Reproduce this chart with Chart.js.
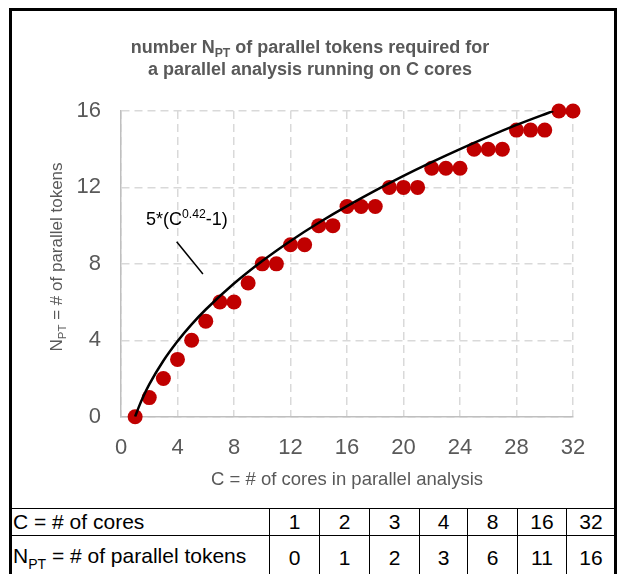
<!DOCTYPE html>
<html>
<head>
<meta charset="utf-8">
<script src="https://cdn.jsdelivr.net/npm/chart.js@4.4.0/dist/chart.umd.min.js"></script>
<style>
body { margin: 0; background: #fff; font-family: "Liberation Sans", Arial, sans-serif; }
#wrap { position: relative; width: 620px; height: 574px; overflow: hidden; }
#box { position: absolute; left: 9px; top: 8px; width: 602px; height: 620px; border: 3px solid #000; }
#c { position: absolute; left: 0; top: 0; }
table { position: absolute; left: 11px; top: 508px; border-collapse: collapse; table-layout: fixed; font-size: 21px; color: #000; }
td { border: 1px solid #000; padding: 0; text-align: center; white-space: nowrap; }
td.lab { text-align: left; padding-left: 1px; }
tr.r1 td { height: 26px; }
tr.r2 td { height: 44px; }
sub { font-size: 14px; vertical-align: -6px; }
</style>
</head>
<body>
<div id="wrap">
  <canvas id="c" width="620" height="508"></canvas>
  <table id="tbl">
    <colgroup><col style="width:258px"><col style="width:50px"><col style="width:50px"><col style="width:50px"><col style="width:48px"><col style="width:50px"><col style="width:49px"><col style="width:49px"></colgroup>
    <tr class="r1"><td class="lab">C = # of cores</td></tr>
    <tr class="r2"><td class="lab">N<sub>PT</sub> = # of parallel tokens</td></tr>
  </table>
  <div id="box"></div>
</div>
<script>
// points
const cores = [1, 2, 3, 4, 5, 6, 7, 8, 9, 10, 11, 12, 13, 14, 15, 16,
               17, 18, 19, 20, 21, 22, 23, 24, 25, 26, 27, 28, 29, 30, 31, 32];
const tokens = [0, 1, 2, 3, 4, 5, 6, 6, 7, 8, 8, 9, 9, 10, 10, 11,
                11, 11, 12, 12, 12, 13, 13, 13, 14, 14, 14, 15, 15, 15, 16, 16];

// fitted curve, values
const fitCores = [1, 1.25, 1.5, 2, 3, 4, 5, 6, 8, 10, 12, 14, 16, 20, 24, 28, 30.6];
const fitTokens = [0, 0.49, 0.93, 1.69, 2.93, 3.95, 4.83, 5.61, 6.97, 8.15, 9.2, 10.15, 11.02, 12.6, 14.0, 15.27, 16.0];

// little table under the chart
const tableCores = [1, 2, 3, 4, 8, 16, 32];
const tableTokens = [0, 1, 2, 3, 6, 11, 16];

const FONT = '"Liberation Sans", Arial, sans-serif';
const GREY = '#595959';

const rows = document.querySelectorAll('#tbl tr');
tableCores.forEach(v => { const td = document.createElement('td'); td.textContent = v; rows[0].appendChild(td); });
tableTokens.forEach(v => { const td = document.createElement('td'); td.textContent = v; rows[1].appendChild(td); });

// draw a string made of normal / sub / sup pieces
function richText(ctx, parts, x, y, size, bold, align) {
    const f = s => (bold ? 'bold ' : '') + s + 'px ' + FONT;
    let w = 0;
    parts.forEach(p => {
        ctx.font = f(p.s ? size * 0.68 : size);
        w += ctx.measureText(p.t).width;
    });
    let cx = align === 'center' ? x - w / 2 : x;
    ctx.textAlign = 'left';
    ctx.textBaseline = 'alphabetic';
    parts.forEach(p => {
        const sz = p.s ? size * 0.68 : size;
        ctx.font = f(sz);
        let dy = 0;
        if (p.s === 'sub') dy = size * 0.22;
        if (p.s === 'sup') dy = -size * 0.38;
        ctx.fillText(p.t, cx, y + dy);
        cx += ctx.measureText(p.t).width;
    });
}

const textPlugin = {
    id: 'texts',
    afterDraw(chart) {
        const ctx = chart.ctx;
        const x = chart.scales.x, y = chart.scales.y;
        ctx.save();
        ctx.fillStyle = GREY;
        richText(ctx, [{t: 'number N'}, {t: 'PT', s: 'sub'}, {t: ' of parallel tokens required for'}], 310, 53, 18, true, 'center');
        richText(ctx, [{t: 'a parallel analysis running on C cores'}], 310, 75, 18, true, 'center');

        // x axis title
        richText(ctx, [{t: 'C = # of cores in parallel analysis'}], (chart.chartArea.left + chart.chartArea.right) / 2, 485, 18.5, false, 'center');

        // y axis title
        ctx.save();
        ctx.translate(62, 257);
        ctx.rotate(-Math.PI / 2);
        richText(ctx, [{t: 'N'}, {t: 'PT', s: 'sub'}, {t: ' = # of parallel tokens'}], 0, 0, 17, false, 'center');
        ctx.restore();

        // label of the fitted curve
        ctx.fillStyle = '#000';
        richText(ctx, [{t: '5*(C'}, {t: '0.42', s: 'sup'}, {t: '-1)'}], x.getPixelForValue(1.77), y.getPixelForValue(10.03), 18, false, 'left');
        ctx.strokeStyle = '#000';
        ctx.lineWidth = 1.5;
        ctx.beginPath();
        ctx.moveTo(x.getPixelForValue(3.94), y.getPixelForValue(9.16));
        ctx.lineTo(x.getPixelForValue(5.8), y.getPixelForValue(7.47));
        ctx.stroke();
        ctx.restore();
    }
};

new Chart(document.getElementById('c'), {
    type: 'scatter',
    data: {
        datasets: [
            {
                data: cores.map((c, i) => ({x: c, y: tokens[i]})),
                backgroundColor: '#c00000',
                borderWidth: 0,
                pointRadius: 7.5,
                pointHoverRadius: 7.5,
                clip: false,
                order: 1
            },
            {
                data: fitCores.map((c, i) => ({x: c, y: fitTokens[i]})),
                showLine: true,
                borderColor: '#000',
                borderWidth: 2.5,
                pointRadius: 0,
                cubicInterpolationMode: 'monotone',
                order: 0
            }
        ]
    },
    options: {
        responsive: false,
        animation: false,
        layout: { padding: { top: 111, right: 47, left: 0, bottom: 0 } },
        plugins: { legend: { display: false }, tooltip: { enabled: false } },
        scales: {
            x: {
                type: 'linear', min: 0, max: 32,
                ticks: { stepSize: 4, color: GREY, font: { size: 22, family: FONT }, padding: 18 },
                grid: { color: '#d9d9d9', lineWidth: 1.5, drawTicks: false },
                border: { color: '#bfbfbf', width: 1.5, dash: [8, 5] },
                afterFit: s => { s.height = 91.3; }
            },
            y: {
                min: 0, max: 16,
                ticks: { stepSize: 4, color: GREY, font: { size: 22, family: FONT }, padding: 20 },
                grid: { color: '#d9d9d9', lineWidth: 1.5, drawTicks: false },
                border: { color: '#bfbfbf', width: 1.5, dash: [8, 5] },
                afterFit: s => { s.width = 121; }
            }
        }
    },
    plugins: [textPlugin]
});
</script>
</body>
</html>
